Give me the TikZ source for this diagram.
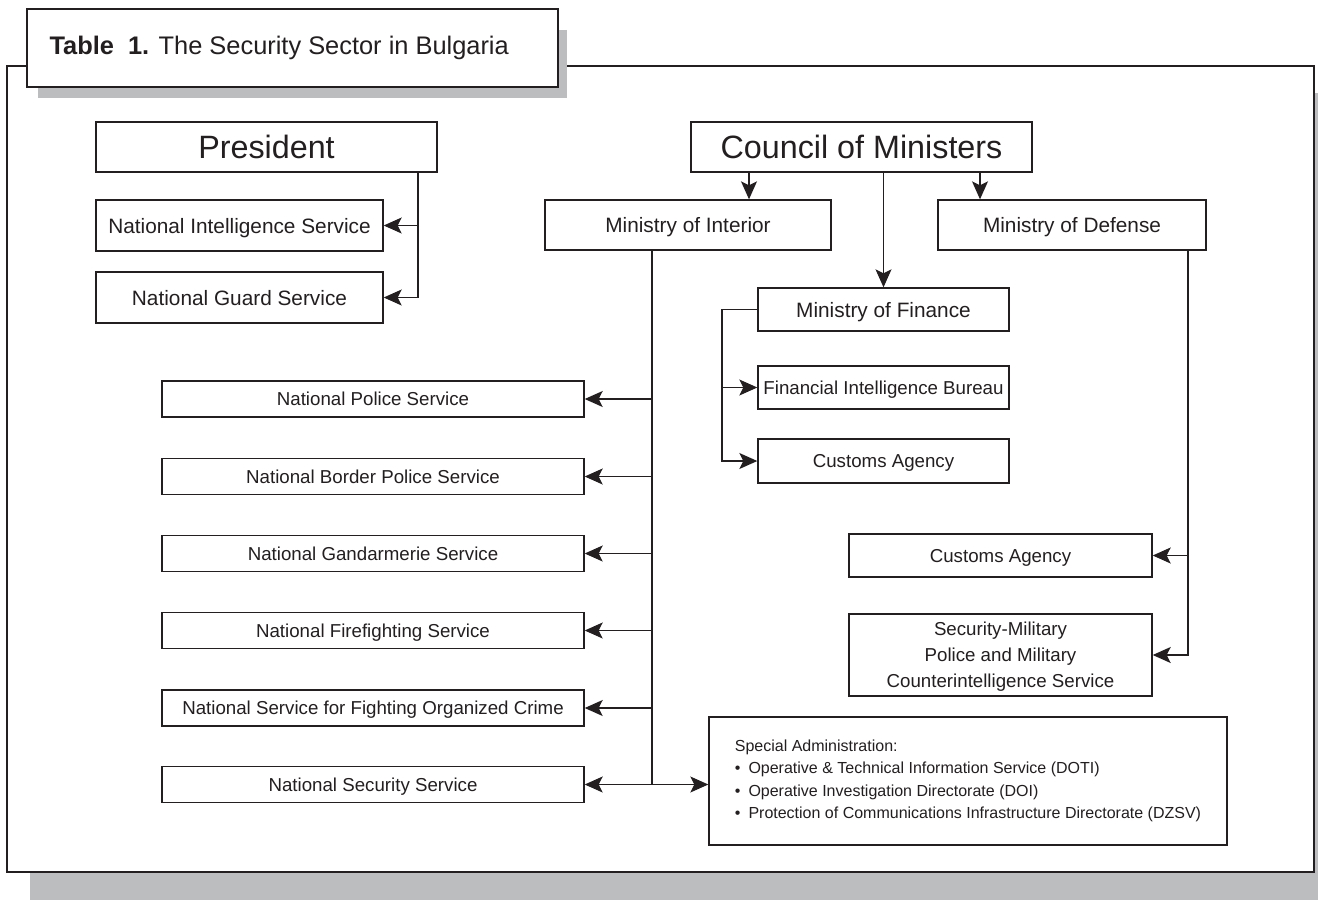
\documentclass[tikz,border=0pt]{standalone}
\usepackage{fontspec}
\setmainfont{Liberation Sans}
\usetikzlibrary{arrows.meta}
\definecolor{ink}{HTML}{231F20}
\definecolor{shadowgray}{HTML}{BCBDBF}
\begin{document}
\begin{tikzpicture}[x=1pt,y=-1pt,
  boxbase/.style={draw=ink, line width=1.4pt, fill=white, inner sep=0pt, text=ink, align=center},
  box/.style={boxbase, text depth=0pt},
  big/.style={font=\fontsize{32.3}{38}\selectfont},
  mid/.style={font=\fontsize{20.8}{25}\selectfont},
  small/.style={font=\fontsize{18.7}{26}\selectfont},
  conn/.style={draw=ink, line width=1.2pt},
  arr/.style={conn, -{Stealth[length=18pt,width=16pt,inset=4pt]}},
  leftbox/.style={box, small, minimum width=422, minimum height=36},
]
\useasboundingbox (0,0) rectangle (1318,900);
% frame and shadows
\fill[shadowgray] (30,93) rectangle (1318,900);
\draw[ink, line width=2.5pt, fill=white] (7,66) rectangle (1314,872);
\fill[shadowgray] (38,30) rectangle (567,98);
\node[draw=ink, line width=2pt, fill=white, anchor=north west, minimum width=531, minimum height=78, inner sep=0pt] (tbox) at (26,8) {};
\node[anchor=west, text=ink, font=\fontsize{25.4}{30}\selectfont] (title) at (46,48) {\textbf{Table\ \ 1.} The Security Sector in Bulgaria};

% boxes
\node[box, big, minimum width=341, minimum height=50] (pres) at (266.5,147) {President};
\node[box, big, minimum width=341, minimum height=50] (coun) at (861.5,147) {Council of Ministers};
\node[box, mid, minimum width=287, minimum height=51] (nis) at (239.5,225.5) {National Intelligence Service};
\node[box, mid, minimum width=287, minimum height=51] (ngs) at (239.5,297.5) {National Guard Service};
\node[box, mid, minimum width=286, minimum height=50] (moi) at (688,225) {Ministry of Interior};
\node[box, mid, minimum width=268, minimum height=50] (mod) at (1072,225) {Ministry of Defense};
\node[box, mid, minimum width=251, minimum height=43] (mof) at (883.5,309.5) {Ministry of Finance};
\node[box, small, minimum width=251, minimum height=43] (fib) at (883.5,387.5) {Financial Intelligence Bureau};
\node[box, small, minimum width=251, minimum height=44] (caf) at (883.5,461) {Customs Agency};

\node[leftbox] (nps) at (373,399) {National Police Service};
\node[leftbox] (nbp) at (373,476.5) {National Border Police Service};
\node[leftbox] (ngd) at (373,553.5) {National Gandarmerie Service};
\node[leftbox] (nff) at (373,630.5) {National Firefighting Service};
\node[leftbox] (noc) at (373,708) {National Service for Fighting Organized Crime};
\node[leftbox] (nss) at (373,784.5) {National Security Service};

\node[box, small, minimum width=303, minimum height=43] (cad) at (1000.5,555.5) {Customs Agency};
\node[box, small, minimum width=303, minimum height=82] (smp) at (1000.5,655) {Security-Military\\Police and Military\\Counterintelligence Service};

\node[boxbase, align=left, font=\fontsize{16}{22.4}\selectfont, minimum width=518, minimum height=128] (spa) at (968,781)
 {Special Administration:\\
  \textbullet\hspace{8pt}Operative \& Technical Information Service (DOTI)\\
  \textbullet\hspace{8pt}Operative Investigation Directorate (DOI)\\
  \textbullet\hspace{8pt}Protection of Communications Infrastructure Directorate (DZSV)};

% junction columns
\coordinate (pj) at (418,0);
\coordinate (c1) at (749,0);
\coordinate (c3) at (980,0);
\coordinate (fj) at (722,0);
\coordinate (ij) at (652,0);
\coordinate (dj) at (1188,0);

% President
\draw[arr] (pres.south -| pj) |- (nis.east);
\draw[arr] (pres.south -| pj) |- (ngs.east);

% Council
\draw[arr] (coun.south -| c1) -- (moi.north -| c1);
\draw[arr] (coun.south -| mof.north) -- (mof.north);
\draw[arr] (coun.south -| c3) -- (mod.north -| c3);

% Finance
\draw[conn] (mof.west) -- (mof.west -| fj) -- (fib.west -| fj);
\draw[arr] (mof.west -| fj) |- (caf.west);
\draw[arr] (fib.west -| fj) -- (fib.west);

% Interior
\draw[conn] (moi.south -| ij) -- (nss.east -| ij);
\draw[arr] (nps.east -| ij) -- (nps.east);
\draw[arr] (nbp.east -| ij) -- (nbp.east);
\draw[arr] (ngd.east -| ij) -- (ngd.east);
\draw[arr] (nff.east -| ij) -- (nff.east);
\draw[arr] (noc.east -| ij) -- (noc.east);
\draw[arr] (nss.east -| ij) -- (nss.east);
\draw[arr] (nss.east -| ij) -- (nss.east -| spa.west);

% Defense
\draw[arr] (mod.south -| dj) |- (smp.east);
\draw[arr] (cad.east -| dj) -- (cad.east);
\end{tikzpicture}
\end{document}
